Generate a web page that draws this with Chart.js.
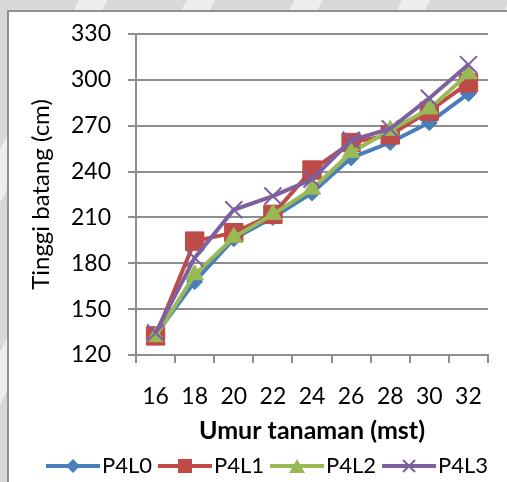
<!DOCTYPE html>
<html>
<head>
<meta charset="utf-8">
<script src="https://cdn.jsdelivr.net/npm/chart.js@4"></script>
<style>
html, body { margin:0; padding:0; }
body { width:507px; height:482px; overflow:hidden; position:relative;
  background: repeating-linear-gradient(118deg, #d8d8d8 0px, #d8d8d8 70px, #eeeeee 70px, #eeeeee 95px); }
#frame { position:absolute; left:7px; top:10px; width:500px; height:472px; background:#fff;
  border-left:2px solid #909090; border-top:2px solid #909090; box-sizing:border-box; }
#c { position:absolute; left:0; top:0; }
</style>
</head>
<body>
<div id="frame"></div>
<canvas id="c" width="507" height="482"></canvas>
<script>
const categories = ["16", "18", "20", "22", "24", "26", "28", "30", "32"];
const seriesNames = ["P4L0", "P4L1", "P4L2", "P4L3"];
const p4l0 = [133, 168, 196, 210, 226, 249, 259, 272, 291];
const p4l1 = [132.5, 194.5, 200, 212, 241, 259, 264, 279.5, 298];
const p4l2 = [132, 172.5, 197, 212, 228.5, 252.5, 267, 281, 304];
const p4l3 = [134.5, 183.5, 215, 224, 235, 260.5, 268, 288, 310];
const yMin = 120, yMax = 330, yStep = 30;
const xTitle = "Umur tanaman (mst)";
const yTitle = "Tinggi batang (cm)";

const colors = ["#4A7EBB", "#BE4B48", "#98B954", "#7D60A0"];
const styles = ["rectRot", "rect", "triangle", "crossRot"];
const radii = [8, 13, 10, 12];
const values = [p4l0, p4l1, p4l2, p4l3];
const FONT = "Lato";

function legendSymbol(i) {
  const cv = document.createElement('canvas');
  cv.width = 70; cv.height = 24;
  const ctx = cv.getContext('2d');
  const cy = 12, x0 = 13, x1 = 67, cx = 40;
  ctx.strokeStyle = colors[i]; ctx.fillStyle = colors[i];
  ctx.lineWidth = 4;
  ctx.beginPath(); ctx.moveTo(x0, cy); ctx.lineTo(x1, cy); ctx.stroke();
  ctx.lineWidth = 2;
  ctx.beginPath();
  if (i === 0) {
    ctx.moveTo(cx, cy - 7); ctx.lineTo(cx + 7, cy); ctx.lineTo(cx, cy + 7); ctx.lineTo(cx - 7, cy); ctx.closePath(); ctx.fill();
  } else if (i === 1) {
    ctx.fillRect(cx - 7, cy - 7, 14, 14);
  } else if (i === 2) {
    ctx.moveTo(cx, cy - 7); ctx.lineTo(cx + 8, cy + 7); ctx.lineTo(cx - 8, cy + 7); ctx.closePath(); ctx.fill();
  } else {
    ctx.moveTo(cx - 6, cy - 6); ctx.lineTo(cx + 6, cy + 6); ctx.moveTo(cx + 6, cy - 6); ctx.lineTo(cx - 6, cy + 6); ctx.stroke();
  }
  return cv;
}
const legendImgs = [0,1,2,3].map(legendSymbol);

const datasets = values.map((v, i) => ({
  label: seriesNames[i],
  data: v,
  borderColor: colors[i],
  backgroundColor: colors[i],
  borderWidth: 4,
  pointStyle: styles[i],
  pointRadius: radii[i],
  pointBorderWidth: i === 3 ? 2 : 1,
  pointBackgroundColor: colors[i],
  pointBorderColor: colors[i],
  tension: 0,
  order: 4 - i
}));

const gridColor = "#8e8e8e";
new Chart(document.getElementById('c'), {
  type: 'line',
  data: { labels: categories, datasets },
  options: {
    responsive: false,
    animation: false,
    devicePixelRatio: 1,
    layout: { padding: { left: 26, top: 34, right: 0, bottom: -5 } },
    plugins: {
      tooltip: { enabled: false },
      legend: {
        position: 'bottom',
        align: 'center',
        labels: {
          usePointStyle: true,
          pointStyleWidth: 46,
          padding: 5,
          color: '#000',
          font: { family: FONT, size: 22 },
          generateLabels: (chart) => chart.data.datasets.map((d, i) => ({
            text: d.label, pointStyle: legendImgs[i], datasetIndex: i,
            fillStyle: colors[i], strokeStyle: colors[i], lineWidth: 0, hidden: false, fontColor: '#000'
          }))
        }
      }
    },
    scales: {
      x: {
        type: 'category',
        offset: true,
        grid: { offset: true, drawOnChartArea: false, drawTicks: true, tickLength: 8, color: gridColor, lineWidth: 2 },
        border: { display: true, color: gridColor, width: 2 },
        ticks: { color: '#000', padding: 20, font: { family: FONT, size: 23 }, maxRotation: 0 },
        title: { display: true, text: xTitle, color: '#000', font: { family: FONT, size: 25, weight: 'bold' }, padding: { top: 0, bottom: 4 } },
        afterFit: (s) => { s.height = 95; }
      },
      y: {
        min: yMin, max: yMax,
        grid: { color: gridColor, lineWidth: 2, tickLength: 8 },
        border: { display: true, color: gridColor, width: 2 },
        ticks: { stepSize: yStep, color: '#000', padding: 17, font: { family: FONT, size: 23 } },
        title: { display: true, text: yTitle, color: '#000', font: { family: FONT, size: 24 }, padding: { top: 1, bottom: 0 } },
        afterFit: (s) => { s.width = 110; }
      },
      y2: {
        position: 'right',
        display: true,
        grid: { display: false, drawTicks: false },
        border: { display: false },
        ticks: { display: false },
        afterFit: (s) => { s.width = 19; }
      }
    }
  }
});
</script>
</body>
</html>
